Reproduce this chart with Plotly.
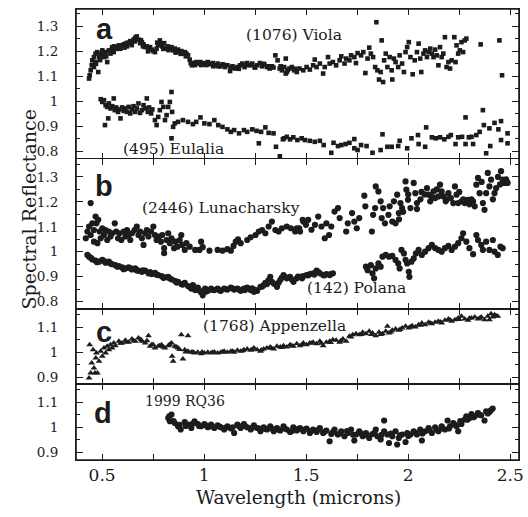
import plotly.graph_objects as go
from plotly.subplots import make_subplots

# ---------------- spectra (wavelength in microns, reflectance) ----------------
VIOLA = [
    (0.436, 1.091), (0.439, 1.104), (0.444, 1.124), (0.449, 1.144), (0.452, 1.164), (0.460, 1.137),
    (0.460, 1.177), (0.468, 1.191), (0.468, 1.157), (0.476, 1.197), (0.481, 1.117), (0.485, 1.177),
    (0.493, 1.190), (0.501, 1.204), (0.509, 1.177), (0.517, 1.197), (0.525, 1.157), (0.533, 1.204),
    (0.541, 1.191), (0.549, 1.217), (0.557, 1.197), (0.565, 1.211), (0.573, 1.217), (0.582, 1.224),
    (0.590, 1.211), (0.598, 1.224), (0.606, 1.228), (0.614, 1.231), (0.622, 1.220), (0.630, 1.233),
    (0.638, 1.241), (0.646, 1.237), (0.654, 1.247), (0.662, 1.255), (0.670, 1.260), (0.678, 1.247),
    (0.686, 1.233), (0.695, 1.237), (0.703, 1.228), (0.711, 1.217), (0.719, 1.220), (0.727, 1.211),
    (0.735, 1.217), (0.743, 1.207), (0.751, 1.201), (0.759, 1.197), (0.767, 1.211), (0.775, 1.224),
    (0.783, 1.244), (0.788, 1.231), (0.795, 1.220), (0.804, 1.233), (0.811, 1.211), (0.821, 1.220),
    (0.832, 1.211), (0.840, 1.217), (0.848, 1.204), (0.856, 1.211), (0.864, 1.201), (0.872, 1.207),
    (0.880, 1.197), (0.888, 1.201), (0.896, 1.191), (0.905, 1.197), (0.913, 1.191), (0.921, 1.184),
    (0.929, 1.167), (0.934, 1.153), (0.940, 1.144), (0.950, 1.153), (0.961, 1.157), (0.972, 1.151),
    (0.982, 1.157), (0.993, 1.148), (1.005, 1.153), (1.018, 1.157), (1.030, 1.148), (1.042, 1.153),
    (1.053, 1.144), (1.066, 1.151), (1.079, 1.140), (1.090, 1.148), (1.102, 1.137), (1.114, 1.144),
    (1.127, 1.121), (1.139, 1.140), (1.150, 1.131), (1.163, 1.137), (1.176, 1.144), (1.187, 1.151),
    (1.198, 1.137), (1.211, 1.153), (1.224, 1.144), (1.236, 1.151), (1.247, 1.137), (1.260, 1.144),
    (1.273, 1.153), (1.284, 1.140), (1.295, 1.148), (1.308, 1.137), (1.321, 1.131), (1.332, 1.140),
    (1.349, 1.184), (1.360, 1.164), (1.370, 1.131), (1.381, 1.124), (1.392, 1.137), (1.400, 1.171),
    (1.400, 1.111), (1.405, 1.117), (1.418, 1.131), (1.430, 1.137), (1.441, 1.124), (1.454, 1.117),
    (1.467, 1.131),
    (0.470, 1.150), (0.490, 1.165), (0.505, 1.185), (0.520, 1.180), (0.545, 1.205), (0.560, 1.220),
    (0.580, 1.210), (0.610, 1.215), (0.625, 1.235), (0.645, 1.225), (0.660, 1.240), (0.690, 1.245),
    (0.700, 1.220), (0.725, 1.200), (0.770, 1.235), (0.800, 1.210), (0.825, 1.205), (0.860, 1.195),
    (0.885, 1.190), (0.910, 1.180), (0.955, 1.145), (0.985, 1.145), (1.010, 1.145), (1.045, 1.140),
    (1.070, 1.140), (1.100, 1.145), (1.130, 1.135), (1.170, 1.130), (1.205, 1.145), (1.250, 1.135),
    (1.290, 1.150), (1.315, 1.140), (1.340, 1.135), (1.375, 1.140), (1.410, 1.125), (1.445, 1.130),
    (1.486, 1.124), (1.502, 1.137), (1.518, 1.127), (1.534, 1.144), (1.542, 1.167), (1.551, 1.137),
    (1.567, 1.151), (1.583, 1.111), (1.591, 1.137), (1.607, 1.177), (1.615, 1.151), (1.631, 1.157),
    (1.647, 1.144), (1.664, 1.164), (1.672, 1.180), (1.688, 1.151), (1.696, 1.171), (1.712, 1.164),
    (1.720, 1.184), (1.736, 1.177), (1.744, 1.153), (1.752, 1.193), (1.769, 1.184), (1.780, 1.197),
    (1.790, 1.113), (1.801, 1.171), (1.809, 1.215), (1.817, 1.191), (1.828, 1.177), (1.838, 1.137),
    (1.844, 1.317), (1.849, 1.124), (1.857, 1.087), (1.865, 1.117), (1.870, 1.244), (1.877, 1.077),
    (1.882, 1.164), (1.890, 1.191), (1.898, 1.137), (1.909, 1.177), (1.919, 1.124), (1.922, 1.087),
    (1.930, 1.171), (1.938, 1.157), (1.951, 1.137), (1.958, 1.184), (1.970, 1.151), (1.979, 1.117),
    (1.987, 1.197), (1.995, 1.217), (2.003, 1.237), (2.011, 1.177), (2.022, 1.108), (2.032, 1.164),
    (2.043, 1.197), (2.051, 1.231), (2.059, 1.171), (2.064, 1.117), (2.075, 1.191), (2.083, 1.204),
    (2.092, 1.177), (2.100, 1.197), (2.108, 1.211), (2.116, 1.191), (2.124, 1.177), (2.132, 1.207),
    (2.140, 1.184), (2.148, 1.144), (2.156, 1.217), (2.164, 1.177), (2.172, 1.191), (2.180, 1.257),
    (2.188, 1.137), (2.197, 1.157), (2.205, 1.131), (2.213, 1.164), (2.226, 1.257), (2.232, 1.157),
    (2.237, 1.224), (2.245, 1.191), (2.253, 1.204), (2.261, 1.237), (2.269, 1.197), (2.277, 1.244),
    (2.285, 1.251), (2.355, 1.228), (2.447, 1.244), (2.460, 1.104),
]

EULALIA = [
    (0.493, 1.008), (0.501, 0.997), (0.509, 1.004), (0.517, 0.984), (0.514, 0.904), (0.525, 0.977),
    (0.530, 0.931), (0.533, 0.991), (0.541, 0.971), (0.549, 0.980), (0.557, 1.011), (0.562, 0.964),
    (0.569, 0.975), (0.578, 0.957), (0.585, 0.967), (0.590, 0.931), (0.598, 0.975), (0.606, 0.961),
    (0.614, 0.971), (0.622, 0.957), (0.630, 0.977), (0.638, 0.951), (0.646, 0.967), (0.654, 0.980),
    (0.662, 0.957), (0.670, 0.971), (0.678, 0.991), (0.686, 0.953), (0.695, 0.964), (0.703, 0.984),
    (0.711, 0.971), (0.719, 1.011), (0.724, 0.957), (0.730, 0.975), (0.740, 0.951), (0.746, 0.967),
    (0.759, 0.924), (0.767, 0.904), (0.775, 0.937), (0.783, 0.964), (0.791, 0.997), (0.800, 0.977),
    (0.808, 0.924), (0.816, 0.944), (0.824, 0.977), (0.832, 0.997), (0.840, 1.037), (0.843, 0.957),
    (0.848, 0.897), (0.840, 0.851), (0.856, 0.911), (0.872, 0.917), (0.896, 0.924), (0.921, 0.917),
    (0.945, 0.908), (0.961, 0.917), (0.982, 0.935), (1.001, 0.911), (1.026, 0.908), (1.050, 0.924),
    (1.069, 0.904), (1.090, 0.897), (1.114, 0.887), (1.131, 0.877), (1.147, 0.884), (1.171, 0.871),
    (1.195, 0.884), (1.211, 0.877), (1.236, 0.887), (1.257, 0.881), (1.268, 0.831), (1.279, 0.877),
    (1.300, 0.895), (1.316, 0.873), (1.340, 0.871), (1.352, 0.817), (1.371, 0.779), (1.386, 0.847),
    (1.392, 0.851), (1.405, 0.857), (1.421, 0.847), (1.437, 0.855), (1.457, 0.844), (1.478, 0.851),
    (1.494, 0.844), (1.518, 0.841), (1.542, 0.837), (1.567, 0.841), (1.586, 0.824), (1.623, 0.793),
    (1.634, 0.833), (1.656, 0.820), (1.672, 0.824), (1.693, 0.828), (1.712, 0.833), (1.736, 0.848),
    (1.736, 0.811), (1.752, 0.804), (1.769, 0.824), (1.796, 0.820), (1.825, 0.793), (1.865, 0.804),
    (1.874, 0.867), (1.898, 0.817), (1.919, 0.817), (1.951, 0.820), (1.958, 0.841), (1.995, 0.811),
    (2.016, 0.851), (2.048, 0.864), (2.051, 0.828), (2.083, 0.817), (2.088, 0.895), (2.116, 0.855),
    (2.135, 0.851), (2.156, 0.855), (2.177, 0.847), (2.197, 0.857), (2.209, 0.864), (2.232, 0.828),
    (2.245, 0.855), (2.264, 0.857), (2.281, 0.935), (2.281, 0.828), (2.297, 0.855), (2.310, 0.857),
    (2.318, 0.828), (2.334, 0.864), (2.350, 0.877), (2.366, 0.964), (2.371, 0.904), (2.382, 0.791),
    (2.398, 0.891), (2.402, 0.820), (2.423, 0.913), (2.442, 0.887), (2.455, 0.920), (2.455, 0.844),
    (2.487, 0.871), (2.487, 0.831),
]

LUNACHARSKY = [
    (0.420, 1.054), (0.428, 1.081), (0.436, 1.101), (0.444, 1.195), (0.444, 1.067), (0.452, 1.114),
    (0.460, 1.040), (0.460, 1.087), (0.468, 1.141), (0.472, 1.114), (0.477, 1.034), (0.481, 1.128),
    (0.488, 1.081), (0.493, 1.054), (0.501, 1.094), (0.509, 1.067), (0.517, 1.087), (0.525, 1.047),
    (0.533, 1.081), (0.541, 1.061), (0.549, 1.074), (0.562, 1.114), (0.569, 1.081), (0.578, 1.054),
    (0.585, 1.074), (0.594, 1.047), (0.606, 1.081), (0.614, 1.061), (0.622, 1.087), (0.630, 1.067),
    (0.638, 1.047), (0.646, 1.074), (0.659, 1.087), (0.670, 1.101), (0.678, 1.067), (0.686, 1.081),
    (0.695, 1.054), (0.703, 1.027), (0.711, 1.074), (0.719, 1.087), (0.727, 1.061), (0.740, 1.081),
    (0.751, 1.101), (0.759, 1.067), (0.767, 1.047), (0.779, 1.061), (0.788, 1.040), (0.795, 1.067),
    (0.804, 1.014), (0.804, 0.994), (0.816, 1.047), (0.824, 1.074), (0.832, 1.034), (0.840, 1.054),
    (0.853, 1.014), (0.859, 1.040), (0.869, 1.020), (0.880, 1.047), (0.888, 1.067), (0.892, 1.027),
    (0.905, 1.007), (0.913, 1.034), (0.929, 1.020), (0.956, 1.007), (0.977, 1.007), (0.985, 1.040),
    (0.993, 1.018), (1.026, 1.004), (1.066, 1.007), (1.090, 1.004), (1.114, 1.010), (1.131, 1.004),
    (1.144, 1.023), (1.155, 1.040), (1.166, 1.050), (1.179, 1.034), (1.211, 1.047), (1.228, 1.058),
    (1.252, 1.067), (1.268, 1.081), (1.284, 1.087), (1.300, 1.074), (1.316, 1.101), (1.332, 1.121),
    (1.349, 1.087), (1.365, 1.081), (1.381, 1.094), (1.405, 1.101), (1.425, 1.094), (1.446, 1.081),
    (1.466, 1.094), (1.483, 1.128), (1.454, 1.094), (1.470, 1.081), (1.486, 1.121), (1.499, 1.108),
    (1.510, 1.128), (1.526, 1.088), (1.543, 1.108), (1.559, 1.141), (1.575, 1.101), (1.591, 1.054),
    (1.599, 1.114), (1.612, 1.067), (1.623, 1.101), (1.639, 1.161), (1.656, 1.175), (1.664, 1.135),
    (1.696, 1.081), (1.704, 1.114), (1.725, 1.155), (1.736, 1.121), (1.748, 1.094), (1.760, 1.135),
    (1.785, 1.225), (1.790, 1.182), (1.822, 1.081), (1.828, 1.148), (1.838, 1.175), (1.841, 1.262),
    (1.854, 1.242), (1.865, 1.202), (1.870, 1.135), (1.877, 1.175), (1.886, 1.114), (1.903, 1.148),
    (1.909, 1.182), (1.922, 1.121), (1.930, 1.202), (1.938, 1.114), (1.946, 1.229), (1.954, 1.155),
    (1.962, 1.195), (1.970, 1.175), (1.955, 1.130), (1.975, 1.160), (1.987, 1.282), (1.991, 1.249),
    (1.999, 1.208), (2.000, 1.230), (2.011, 1.175), (2.027, 1.276), (2.035, 1.235), (2.043, 1.195),
    (2.043, 1.171), (2.060, 1.210), (2.065, 1.240), (2.080, 1.230), (2.092, 1.255), (2.100, 1.229),
    (2.108, 1.202), (2.115, 1.220), (2.124, 1.242), (2.132, 1.215), (2.140, 1.250), (2.148, 1.222),
    (2.156, 1.269), (2.164, 1.242), (2.172, 1.222), (2.184, 1.202), (2.190, 1.210), (2.197, 1.235),
    (2.209, 1.215), (2.221, 1.195), (2.229, 1.262), (2.237, 1.229), (2.245, 1.195), (2.250, 1.240),
    (2.261, 1.202), (2.270, 1.210), (2.277, 1.195), (2.293, 1.208), (2.300, 1.190), (2.310, 1.210),
    (2.318, 1.202), (2.326, 1.182), (2.334, 1.269), (2.342, 1.296), (2.350, 1.235), (2.360, 1.280),
    (2.366, 1.195), (2.374, 1.168), (2.382, 1.235), (2.390, 1.316), (2.398, 1.262), (2.406, 1.289),
    (2.415, 1.210), (2.423, 1.235), (2.431, 1.255), (2.440, 1.300), (2.450, 1.270), (2.455, 1.323),
    (2.463, 1.289), (2.471, 1.276), (2.480, 1.290), (2.487, 1.276),
]

POLANA = [
    (0.428, 0.987), (0.436, 0.980), (0.452, 0.969), (0.468, 0.964), (0.485, 0.960), (0.501, 0.967),
    (0.517, 0.956), (0.533, 0.960), (0.549, 0.950), (0.565, 0.946), (0.582, 0.942), (0.598, 0.937),
    (0.614, 0.933), (0.630, 0.937), (0.646, 0.929), (0.662, 0.933), (0.678, 0.924), (0.695, 0.919),
    (0.711, 0.924), (0.727, 0.913), (0.743, 0.910), (0.759, 0.915), (0.775, 0.906), (0.791, 0.902),
    (0.808, 0.897), (0.824, 0.899), (0.840, 0.889), (0.856, 0.883), (0.872, 0.879), (0.888, 0.870),
    (0.905, 0.875), (0.921, 0.862), (0.937, 0.852), (0.945, 0.866), (0.956, 0.846), (0.969, 0.856),
    (0.982, 0.839), (0.993, 0.825), (1.005, 0.852), (1.018, 0.843), (1.034, 0.852), (1.050, 0.846),
    (1.066, 0.852), (1.082, 0.843), (1.098, 0.852), (1.114, 0.848), (1.131, 0.856), (1.147, 0.848),
    (1.163, 0.852), (1.179, 0.843), (1.195, 0.852), (1.211, 0.856), (1.228, 0.846), (1.244, 0.839),
    (1.260, 0.843), (1.276, 0.859), (1.292, 0.866), (1.308, 0.870), (1.324, 0.899), (1.332, 0.879),
    (1.341, 0.872), (1.357, 0.859), (1.373, 0.886), (1.389, 0.906), (1.405, 0.893), (1.421, 0.899),
    (1.438, 0.879), (1.454, 0.893), (1.470, 0.899), (1.486, 0.902), (1.502, 0.906), (1.518, 0.910),
    (1.534, 0.913), (1.551, 0.924), (1.567, 0.913), (1.583, 0.906), (1.599, 0.910), (1.615, 0.906),
    (1.631, 0.913),
    (0.445, 0.975), (0.475, 0.958), (0.510, 0.962), (0.540, 0.953), (0.575, 0.940), (0.605, 0.930),
    (0.640, 0.933), (0.670, 0.925), (0.700, 0.925), (0.735, 0.918), (0.765, 0.908), (0.800, 0.895),
    (0.830, 0.893), (0.865, 0.876), (0.895, 0.868), (0.930, 0.858), (0.960, 0.855), (0.975, 0.846),
    (1.010, 0.840), (1.040, 0.847), (1.075, 0.845), (1.105, 0.850), (1.140, 0.852), (1.170, 0.848),
    (1.200, 0.846), (1.235, 0.853), (1.250, 0.847), (1.285, 0.860), (1.300, 0.875), (1.315, 0.885),
    (1.350, 0.868), (1.365, 0.875), (1.380, 0.895), (1.395, 0.900), (1.430, 0.888), (1.460, 0.900),
    (1.480, 0.893), (1.510, 0.905), (1.540, 0.908), (1.560, 0.918), (1.590, 0.905), (1.620, 0.910),
    (1.793, 0.940), (1.801, 0.926), (1.817, 0.946), (1.825, 0.913), (1.833, 0.893), (1.841, 0.933),
    (1.854, 0.953), (1.865, 0.940), (1.874, 0.980), (1.890, 0.987), (1.906, 0.980), (1.922, 0.983),
    (1.938, 0.967), (1.951, 0.953), (1.958, 0.933), (1.967, 1.007), (1.979, 0.993), (1.987, 0.967),
    (1.995, 0.953), (2.003, 0.919), (2.006, 0.899), (2.016, 0.960), (2.027, 0.973), (2.038, 0.993),
    (2.051, 1.007), (2.067, 0.987), (2.083, 1.000), (2.100, 1.014), (2.116, 1.027), (2.132, 1.014),
    (2.148, 1.007), (2.164, 1.000), (2.180, 1.014), (2.197, 1.023), (2.213, 1.007), (2.229, 1.020),
    (2.245, 1.034), (2.261, 1.054), (2.269, 1.074), (2.285, 1.040), (2.300, 1.014), (2.318, 0.990),
    (2.334, 1.067), (2.342, 1.047), (2.358, 1.027), (2.366, 1.007), (2.382, 1.040), (2.398, 1.007),
    (2.415, 1.047), (2.423, 1.000), (2.439, 0.987), (2.452, 1.020), (2.463, 1.014),
]

APPENZELLA = [
    (0.436, 0.896), (0.444, 0.916), (0.449, 0.956), (0.439, 1.029), (0.460, 0.936), (0.465, 0.916),
    (0.456, 1.009), (0.469, 0.976), (0.477, 0.916), (0.472, 0.996), (0.485, 0.963), (0.493, 1.003),
    (0.501, 0.983), (0.509, 1.016), (0.517, 0.996), (0.525, 1.023), (0.533, 1.009), (0.541, 1.029),
    (0.549, 1.016), (0.557, 1.036), (0.565, 1.025), (0.582, 1.043), (0.598, 1.036), (0.614, 1.047),
    (0.630, 1.039), (0.646, 1.052), (0.662, 1.043), (0.678, 1.056), (0.695, 1.043), (0.711, 1.036),
    (0.727, 1.065), (0.735, 1.023), (0.743, 1.029), (0.759, 1.016), (0.775, 1.023), (0.791, 1.029),
    (0.808, 1.016), (0.824, 1.025), (0.840, 1.036), (0.843, 0.983), (0.848, 0.963), (0.856, 1.023),
    (0.872, 1.016), (0.888, 1.069), (0.896, 0.972), (0.905, 1.009), (0.921, 1.065), (0.921, 1.003),
    (0.937, 0.999), (0.953, 0.996), (0.969, 0.999), (0.985, 0.993), (1.001, 0.996), (1.018, 0.999),
    (1.034, 0.996), (1.050, 1.000), (1.066, 0.996), (1.082, 0.999), (1.098, 1.003), (1.114, 0.999),
    (1.131, 1.003), (1.147, 0.999), (1.163, 1.007), (1.179, 1.003), (1.195, 1.009), (1.211, 1.012),
    (1.228, 1.007), (1.244, 1.016), (1.260, 1.009), (1.276, 1.003), (1.292, 1.012), (1.308, 1.016),
    (1.324, 1.020), (1.341, 1.012), (1.357, 1.023), (1.373, 1.020), (1.389, 1.025), (1.405, 1.020),
    (1.421, 1.029), (1.437, 1.023), (1.454, 1.033), (1.470, 1.025), (1.486, 1.036), (1.502, 1.029),
    (1.518, 1.036), (1.534, 1.039), (1.551, 1.033), (1.567, 1.043), (1.583, 1.025), (1.599, 1.039),
    (1.615, 1.043), (1.631, 1.049), (1.647, 1.047), (1.664, 1.039), (1.680, 1.052), (1.696, 1.043),
    (1.712, 1.063), (1.728, 1.069), (1.744, 1.073), (1.760, 1.069), (1.777, 1.079), (1.793, 1.073),
    (1.809, 1.083), (1.825, 1.076), (1.841, 1.065), (1.857, 1.079), (1.874, 1.073), (1.890, 1.083),
    (1.898, 1.103), (1.906, 1.076), (1.922, 1.087), (1.938, 1.092), (1.954, 1.087), (1.970, 1.096),
    (1.987, 1.103), (2.003, 1.096), (2.019, 1.105), (2.035, 1.100), (2.051, 1.109), (2.067, 1.116),
    (2.083, 1.109), (2.100, 1.119), (2.116, 1.113), (2.132, 1.119), (2.148, 1.123), (2.164, 1.116),
    (2.180, 1.127), (2.197, 1.132), (2.213, 1.123), (2.229, 1.129), (2.245, 1.136), (2.261, 1.143),
    (2.277, 1.132), (2.293, 1.127), (2.310, 1.136), (2.326, 1.140), (2.342, 1.132), (2.358, 1.140),
    (2.374, 1.129), (2.390, 1.143), (2.398, 1.129), (2.406, 1.153), (2.423, 1.149), (2.439, 1.143),
    (0.590, 1.035), (0.620, 1.040), (0.655, 1.045), (0.690, 1.050), (0.720, 1.045), (0.750, 1.030),
    (0.780, 1.025), (0.800, 1.020), (0.830, 1.030), (0.865, 1.020), (0.880, 1.010), (0.910, 1.000),
    (0.945, 1.000), (0.990, 1.000), (1.040, 0.998), (1.090, 1.000), (1.140, 1.003), (1.190, 1.005),
    (1.235, 1.010), (1.280, 1.008), (1.330, 1.015), (1.380, 1.018), (1.430, 1.025), (1.480, 1.030),
    (1.525, 1.035), (1.575, 1.035), (1.620, 1.038), (1.670, 1.045), (1.720, 1.060), (1.770, 1.070),
    (1.820, 1.070), (1.865, 1.070), (1.915, 1.080), (1.960, 1.090), (2.010, 1.100), (2.060, 1.107),
    (2.110, 1.115), (2.160, 1.120), (2.205, 1.128), (2.250, 1.130), (2.300, 1.135), (2.350, 1.135),
    (2.415, 1.140), (2.430, 1.145),
]

RQ36 = [
    (0.824, 1.037), (0.840, 1.051), (0.832, 1.024), (0.856, 1.017), (0.872, 1.004), (0.885, 0.991),
    (0.905, 1.021), (0.921, 1.011), (0.937, 0.997), (0.953, 1.024), (0.969, 1.013), (0.985, 1.004),
    (1.001, 1.013), (1.018, 1.000), (1.034, 1.011), (1.050, 0.997), (1.066, 1.008), (1.082, 1.000),
    (1.098, 0.991), (1.114, 1.004), (1.131, 0.995), (1.147, 0.977), (1.163, 1.011), (1.179, 0.997),
    (1.195, 1.013), (1.211, 1.000), (1.228, 0.991), (1.244, 1.008), (1.260, 0.997), (1.276, 0.984),
    (1.292, 1.000), (1.308, 0.991), (1.324, 1.004), (1.341, 0.984), (1.357, 0.997), (1.373, 0.987),
    (1.389, 1.004), (1.405, 0.991), (1.421, 0.981), (1.437, 1.000), (1.454, 0.987), (1.470, 0.997),
    (1.486, 0.984), (1.502, 0.995), (1.518, 0.977), (1.534, 0.991), (1.551, 0.981), (1.567, 0.997),
    (1.583, 0.977), (1.599, 0.987), (1.615, 0.944), (1.623, 0.973), (1.639, 0.991), (1.655, 0.971),
    (1.672, 0.984), (1.688, 0.964), (1.704, 0.977), (1.720, 0.991), (1.736, 0.947), (1.744, 0.971),
    (1.760, 0.984), (1.777, 0.964), (1.793, 0.977), (1.809, 0.957), (1.825, 0.973), (1.841, 0.991),
    (1.849, 0.964), (1.865, 0.951), (1.882, 1.027), (1.882, 0.984), (1.898, 0.971), (1.906, 0.937),
    (1.922, 0.964), (1.938, 0.984), (1.946, 0.931), (1.954, 0.957), (1.970, 0.971), (1.987, 0.941),
    (1.995, 0.977), (2.011, 0.971), (2.027, 0.984), (2.043, 0.971), (2.059, 0.991), (2.067, 0.947),
    (2.083, 0.984), (2.100, 0.997), (2.116, 0.977), (2.132, 1.000), (2.148, 0.984), (2.164, 1.004),
    (2.180, 0.991), (2.193, 1.027), (2.205, 1.004), (2.221, 1.017), (2.237, 1.004), (2.245, 0.984),
    (2.261, 1.013), (2.277, 1.031), (2.285, 1.044), (2.301, 1.037), (2.310, 1.053), (2.326, 1.044),
    (2.342, 1.057), (2.358, 1.048), (2.374, 1.027), (2.382, 1.064), (2.398, 1.061), (2.414, 1.075),
    (0.830, 1.045), (0.850, 1.025), (0.880, 1.010), (0.910, 1.005), (0.945, 1.015), (0.975, 1.005),
    (1.010, 1.007), (1.040, 1.003), (1.075, 1.003), (1.105, 0.998), (1.140, 1.000), (1.170, 1.005),
    (1.200, 1.005), (1.235, 0.998), (1.270, 0.995), (1.300, 0.993), (1.330, 0.995), (1.365, 0.990),
    (1.395, 0.995), (1.430, 0.985), (1.460, 0.993), (1.490, 0.990), (1.525, 0.985), (1.560, 0.990),
    (1.590, 0.982), (1.630, 0.980), (1.665, 0.975), (1.700, 0.985), (1.730, 0.970), (1.770, 0.975),
    (1.800, 0.968), (1.835, 0.978), (1.870, 0.970), (1.915, 0.975), (1.960, 0.968), (2.000, 0.965),
    (2.035, 0.978), (2.070, 0.975), (2.105, 0.988), (2.140, 0.990), (2.170, 0.995), (2.200, 0.995),
    (2.230, 1.010), (2.255, 1.025), (2.290, 1.030), (2.320, 1.040), (2.350, 1.050), (2.390, 1.055),
    (2.405, 1.068),
]

# ---------------- panel setup ----------------
Y_RANGES = [(0.768, 1.370), (0.770, 1.372), (0.872, 1.172), (0.869, 1.173)]
X_RANGE = (0.372, 2.543)
X_TICKS = [0.5, 1, 1.5, 2, 2.5]
INK = "#1c1c1c"
SERIF = "DejaVu Serif"

W, H = 528, 517
ML, MR, MT, MB = 76, 4, 9, 57

fig = make_subplots(rows=4, cols=1, shared_xaxes=True, vertical_spacing=0,
                    row_heights=[150, 150, 75, 76])

series = [
    (VIOLA, 1, "square", 4.6),
    (EULALIA, 1, "square", 4.6),
    (LUNACHARSKY, 2, "circle", 6.2),
    (POLANA, 2, "circle", 6.2),
    (APPENZELLA, 3, "triangle-up", 6.0),
    (RQ36, 4, "circle", 6.2),
]
for pts, row, sym, size in series:
    xs = [p[0] for p in pts]
    ys = [p[1] for p in pts]
    fig.add_trace(go.Scatter(x=xs, y=ys, mode="markers",
                             marker=dict(symbol=sym, size=size, color=INK, line=dict(width=0)),
                             showlegend=False, hoverinfo="skip"), row=row, col=1)

for i in range(4):
    row = i + 1
    fig.update_xaxes(range=list(X_RANGE), tickvals=X_TICKS, ticks="inside", ticklen=6,
                     tickwidth=1, tickcolor=INK, showline=True, linewidth=1, linecolor=INK,
                     mirror="ticks", showgrid=False, zeroline=False,
                     minor=dict(tickvals=[0.75, 1.25, 1.75, 2.25], ticks="inside", ticklen=6,
                                tickcolor=INK, tickwidth=1, showgrid=False),
                     showticklabels=(row == 4), ticklabeloverflow="allow",
                     tickfont=dict(family=SERIF, size=17, color=INK),
                     ticklabelstandoff=0,
                     row=row, col=1)
    fig.update_yaxes(range=list(Y_RANGES[i]), dtick=0.1, tick0=0, ticks="inside", ticklen=7,
                     tickwidth=1, tickcolor=INK, showline=True, linewidth=1, linecolor=INK,
                     mirror="ticks", showgrid=False, zeroline=False,
                     minor=dict(dtick=0.05, tick0=0, ticks="inside", ticklen=4,
                                tickcolor=INK, tickwidth=1, showgrid=False),
                     tickfont=dict(family=SERIF, size=13.5, color=INK),
                     ticklabelstandoff=14,
                     row=row, col=1)

# heavier outer frame around the whole stack of panels
fig.add_shape(type="rect", xref="paper", yref="paper", x0=0, x1=1, y0=0, y1=1,
              line=dict(color=INK, width=1.6), fillcolor="rgba(0,0,0,0)", layer="above")


def px_to_paper(x, y):
    return (x - ML) / (W - ML - MR), (H - MB - y) / (H - MT - MB)


def note(text, x, y, size, family=SERIF, bold=False, angle=0):
    px, py = px_to_paper(x, y)
    fig.add_annotation(text=f"<b>{text}</b>" if bold else text, x=px, y=py,
                       xref="paper", yref="paper", xanchor="center", yanchor="middle",
                       showarrow=False, textangle=angle,
                       font=dict(family=family, size=size, color=INK))


# panel letters
for letter, (lx, ly) in zip("abcd", [(104.5, 29), (104, 186), (104, 332), (103, 413)]):
    note(letter, lx, ly, 29, family="Liberation Sans", bold=True)

# object names
note("(1076) Viola", 296, 35, 15.5)
note("(495) Eulalia", 175, 149, 15.5)
note("(2446) Lunacharsky", 223, 208, 15.5)
note("(142) Polana", 360, 288, 15.5)
note("(1768) Appenzella", 277, 326, 15.5)
note("1999 RQ36", 186, 401, 14)

# axis titles
note("Wavelength (microns)", 301, 497, 18.5)
note("Spectral Reflectance", 28, 210, 19, angle=-90)

fig.update_layout(width=W, height=H, margin=dict(l=ML, r=MR, t=MT, b=MB),
                  paper_bgcolor="white", plot_bgcolor="white")

fig.write_html("out.html")
